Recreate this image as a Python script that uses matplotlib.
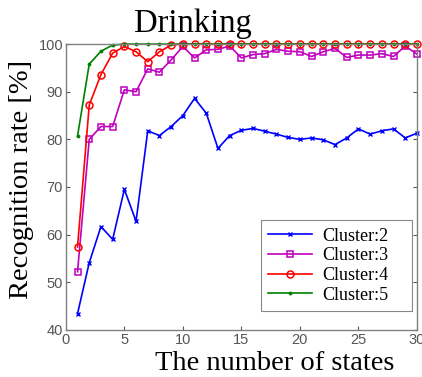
import numpy as np
import matplotlib.pyplot as plt

states = np.arange(1, 31)

cluster2 = [43.4, 54.1, 61.7, 59.0, 69.5, 62.8, 81.8, 80.8, 82.7, 85.0,
            88.6, 85.5, 78.1, 80.8, 81.9, 82.3, 81.7, 81.1, 80.4, 80.0,
            80.3, 79.9, 78.9, 80.3, 82.2, 81.1, 81.8, 82.2, 80.3, 81.3]
cluster3 = [52.2, 80.0, 82.7, 82.7, 90.4, 90.0, 94.8, 94.1, 96.7, 99.5,
            97.1, 98.8, 98.9, 99.6, 97.1, 97.8, 98.0, 98.9, 98.5, 98.4,
            97.4, 98.4, 99.1, 97.2, 97.7, 97.7, 98.0, 97.4, 99.6, 97.9]
cluster4 = [57.4, 87.2, 93.6, 98.1, 99.5, 98.4, 96.3, 98.4, 99.8, 100,
            100, 100, 100, 100, 100, 100, 100, 100, 100, 100,
            100, 100, 100, 100, 100, 100, 100, 100, 100, 100]
cluster5 = [80.7, 95.8, 98.5, 99.8, 100, 100, 100, 100, 100, 100,
            100, 100, 100, 100, 100, 100, 100, 100, 100, 100,
            100, 100, 100, 100, 100, 100, 100, 100, 100, 100]

serif = 'Liberation Serif'
sans = 'Liberation Sans'
grey = '#555555'

fig = plt.figure(figsize=(4.22, 3.77), dpi=100)
ax = fig.add_axes([0.156, 0.125, 0.832, 0.758])

ax.plot(states, cluster2, color='#0000ff', lw=1.2, marker='x', ms=2.5,
        mew=1.0, label='Cluster:2', clip_on=False)
ax.plot(states, cluster3, color='#bf00bf', lw=1.2, marker='s', ms=5,
        mfc='none', mew=1.1, label='Cluster:3', clip_on=False)
ax.plot(states, cluster4, color='#ff0000', lw=1.2, marker='o', ms=5,
        mfc='none', mew=1.1, label='Cluster:4', clip_on=False)
ax.plot(states, cluster5, color='#008000', lw=1.2, marker='.', ms=3.5,
        label='Cluster:5', clip_on=False)

ax.set_xlim(0, 30)
ax.set_ylim(40, 100)
ax.set_xticks(np.arange(0, 31, 5))
ax.set_yticks(np.arange(40, 101, 10))
ax.tick_params(direction='in', top=True, right=True, length=3,
               colors=grey, labelsize=10.5, pad=2)
for lbl in ax.get_xticklabels() + ax.get_yticklabels():
    lbl.set_family(sans)
for sp in ax.spines.values():
    sp.set_color('#808080')
    sp.set_linewidth(1.0)

fig.text(0.457, 0.916, 'Drinking', family=serif, fontsize=23.5,
         ha='center', va='baseline')
fig.text(0.652, 0.019, 'The number of states', family=serif, fontsize=20.5,
         ha='center', va='baseline')
fig.text(0.05, 0.523, 'Recognition rate [%]', family=serif, fontsize=20.5,
         ha='center', va='center', rotation=90)

leg = ax.legend(loc='lower left', bbox_to_anchor=(0.556, 0.066, 0.43, 0.329),
                mode='expand', prop={'family': serif, 'size': 13},
                fancybox=False, framealpha=1, handlelength=2.4,
                borderaxespad=0, labelspacing=0.15, handletextpad=0.6)
leg.get_frame().set_edgecolor('#888888')
leg.get_frame().set_linewidth(0.8)

fig.savefig('out.png', dpi=100)
